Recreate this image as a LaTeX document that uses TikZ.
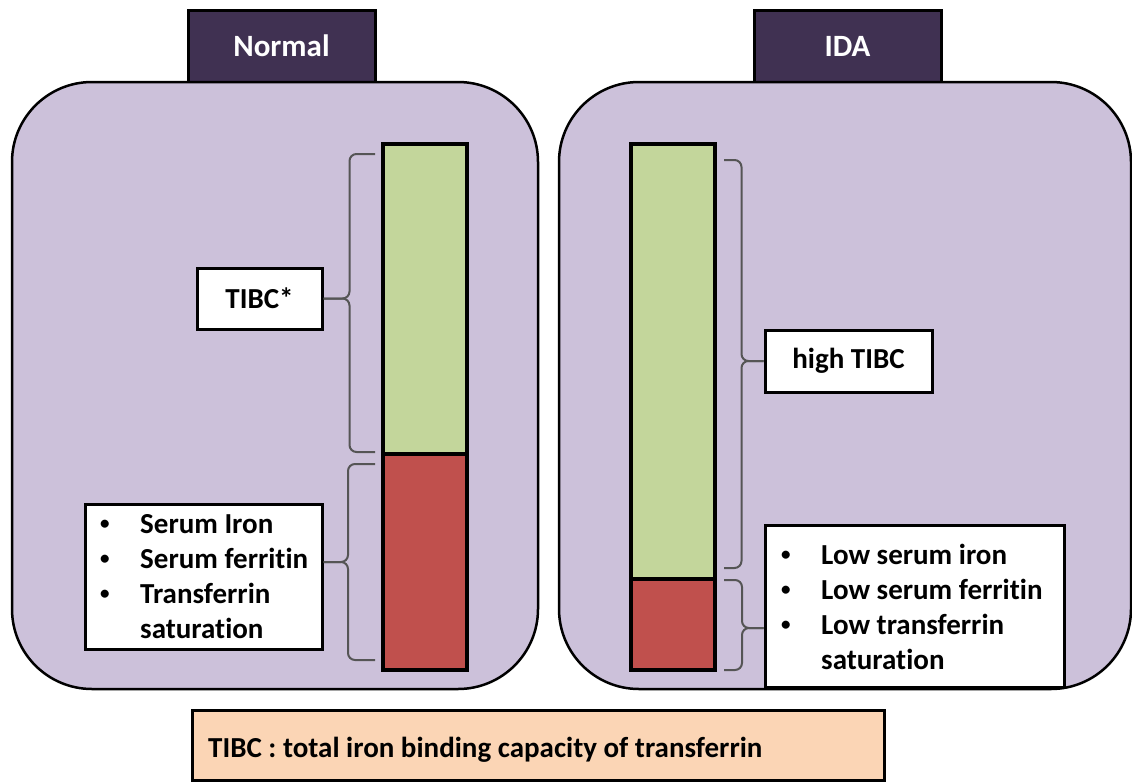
\documentclass[tikz,border=0pt]{standalone}
\usepackage{fontspec}
\setmainfont{Carlito}[Ligatures=NoCommon]
\definecolor{tabc}{HTML}{403152}
\definecolor{panelc}{HTML}{CCC1DA}
\definecolor{greenc}{HTML}{C3D69B}
\definecolor{redc}{HTML}{C0504D}
\definecolor{footc}{HTML}{FBD5B5}
\definecolor{bracec}{HTML}{555555}
\newcommand{\smallbul}{\raisebox{4pt}{\fontsize{19}{19}\selectfont•}}
\tikzset{
  tabbox/.style={draw=black, line width=3pt, fill=tabc, text=white, inner sep=0pt,
    font=\fontsize{31}{37}\selectfont\bfseries},
  panel/.style={draw=black, line width=2.5pt, fill=panelc, rounded corners=80pt},
  barbox/.style={draw=black, line width=3.5pt},
  tbox/.style={draw=black, line width=3pt, fill=white, inner sep=0pt},
  txt/.style={inner sep=0pt, font=\fontsize{29}{35}\selectfont\bfseries},
  bracket/.style={draw=bracec, line width=2pt, rounded corners=7pt},
}
\begin{document}
\begin{tikzpicture}[x=1pt,y=-1pt]
\useasboundingbox (0,0) rectangle (1132,782);
% tabs
\node[tabbox, minimum width=187pt, minimum height=72pt] (normal) at (281.5,46) {Normal};
\node[tabbox, minimum width=187pt, minimum height=72pt] (ida) at (847.5,46) {IDA};
% panels
\draw[panel] (12,82) rectangle (538,689);
\draw[panel] (559,82) rectangle (1131,689);
% bars
\draw[barbox, fill=greenc] (383,144) rectangle (467,454);
\draw[barbox, fill=redc] (383,454) rectangle (467,670);
\draw[barbox, fill=greenc] (631,144) rectangle (715,579);
\draw[barbox, fill=redc] (631,579) rectangle (715,670);
% text boxes
\node[tbox, minimum width=125pt, minimum height=61pt] (tibc) at (259.5,298.5) {};
\node[txt] (tibct) at (tibc.center) {TIBC*};
\node[tbox, minimum width=167pt, minimum height=62pt] (high) at (848.5,361) {};
\node[txt] (hight) at (high.center) {high TIBC};
\node[tbox, minimum width=237pt, minimum height=145pt] (lista) at (203.5,576.5) {};
\node[txt, anchor=base west] (listat) at (100,533)
  {\begin{tabular}[t]{@{}p{40pt}@{}l@{}}\smallbul&Serum Iron\\\smallbul&Serum ferritin\\\smallbul&Transferrin\\&saturation\end{tabular}};
\node[tbox, minimum width=299pt, minimum height=162pt] (listb) at (914.5,606) {};
\node[txt, anchor=base west] (listbt) at (781,564)
  {\begin{tabular}[t]{@{}p{40pt}@{}l@{}}\smallbul&Low serum iron\\\smallbul&Low serum ferritin\\\smallbul&Low transferrin\\&saturation\end{tabular}};
\node[tbox, fill=footc, minimum width=692pt, minimum height=70pt] (foot) at (538,745) {};
\node[txt, anchor=base west] (foott) at (208,757) {TIBC : total iron binding capacity of transferrin};
% braces
\coordinate (t2) at (348,562);
\coordinate (t4) at (742,628);
\draw[bracket] (375,154) -| ([xshift=26pt]tibc.east) -- (tibc.east);
\draw[bracket] (tibc.east) -- ([xshift=26pt]tibc.east) |- (375,452);
\draw[bracket] (375,464) -| (t2) -- (lista.east |- t2);
\draw[bracket] (lista.east |- t2) -- (t2) |- (375,660);
\draw[bracket] (724,160) -| ([xshift=-22pt]high.west) -- (high.west);
\draw[bracket] (high.west) -- ([xshift=-22pt]high.west) |- (724,568);
\draw[bracket] (724,580) -| (t4) -- (listb.west |- t4);
\draw[bracket] (listb.west |- t4) -- (t4) |- (724,670);
\end{tikzpicture}
\end{document}
